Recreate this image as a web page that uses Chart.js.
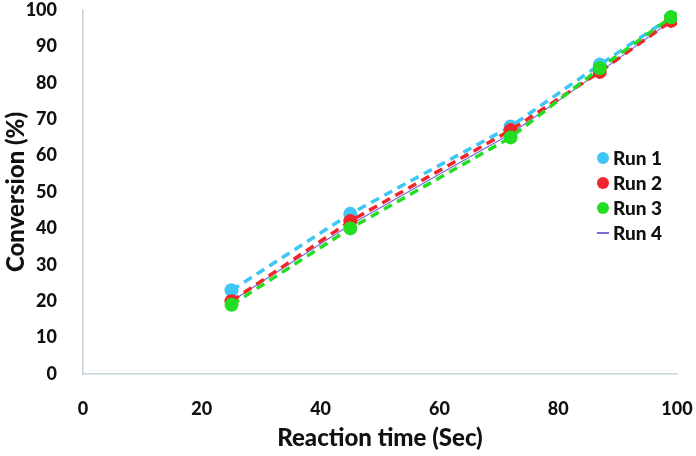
<!DOCTYPE html>
<html><head><meta charset="utf-8">
<script src="https://cdn.jsdelivr.net/npm/chart.js@4"></script>
<style>
html,body{margin:0;padding:0;background:#fff;}
#wrap{position:relative;width:696px;height:456px;}
#legend{position:absolute;left:597px;top:145px;font-family:Lato,"Open Sans",sans-serif;font-weight:900;font-size:19px;color:#111;}
#legend div{height:25px;display:flex;align-items:center;}
#legend span.m{display:inline-block;width:12px;margin-right:4px;}
</style></head>
<body><div id="wrap"><canvas id="c" width="696" height="456"></canvas><div id="legend"></div></div>
<script>
const times = [25, 45, 72, 87, 99];
const run1 = [23, 44, 68, 85, 98];
const run2 = [20, 42, 67, 83, 97];
const run3 = [19, 40, 65, 84, 98];
const run4 = [20, 41, 66, 83, 97];
const seriesNames = ['Run 1', 'Run 2', 'Run 3', 'Run 4'];
const xTitle = 'Reaction time (Sec)';
const yTitle = 'Conversion (%)';
const colors = ['#3ec6f5', '#f0262b', '#22dd22', '#7a6ad8'];

const pts = v => times.map((t, i) => ({x: t, y: v[i]}));
const font = {family: 'Lato, "Open Sans", sans-serif', weight: 900};

const datasets = [
  {label: seriesNames[3], data: pts(run4), borderColor: colors[3], borderWidth: 1.2, pointRadius: 0, order: 4},
  {label: seriesNames[2], data: pts(run3), borderColor: colors[2], backgroundColor: colors[2], borderWidth: 3.5, borderDash: [9, 6], pointRadius: 7, pointBorderWidth: 0, order: 1},
  {label: seriesNames[1], data: pts(run2), borderColor: colors[1], backgroundColor: colors[1], borderWidth: 3.5, borderDash: [9, 6], pointRadius: 7, pointBorderWidth: 0, order: 2},
  {label: seriesNames[0], data: pts(run1), borderColor: colors[0], backgroundColor: colors[0], borderWidth: 3.5, borderDash: [9, 6], pointRadius: 7, pointBorderWidth: 0, order: 3}
];

new Chart(document.getElementById('c'), {
  type: 'line',
  data: {datasets},
  options: {
    responsive: false, animation: false,
    layout: {padding: 0},
    plugins: {legend: {display: false}, tooltip: {enabled: false}},
    scales: {
      x: {type: 'linear', min: 0, max: 100,
        afterFit: s => { s.height = 82; s.paddingRight = 19; s.paddingLeft = 0; },
        ticks: {stepSize: 20, color: '#111', font: {...font, size: 18}, padding: 16},
        grid: {display: false}, border: {color: '#c6d3da', width: 1.5},
        title: {display: true, text: xTitle, color: '#111', font: {...font, size: 24, lineHeight: 1.0}, padding: {top: 4, bottom: 6}}},
      y: {min: 0, max: 100,
        afterFit: s => { s.width = 83; s.paddingTop = 10; s.paddingBottom = 0; },
        ticks: {stepSize: 10, color: '#111', font: {...font, size: 18}, padding: 18},
        grid: {display: false}, border: {color: '#c6d3da', width: 1.5},
        title: {display: true, text: yTitle, color: '#111', font: {...font, size: 24, lineHeight: 1.0}, padding: {top: 4, bottom: 0}}}
    }
  }
});

const lg = document.getElementById('legend');
seriesNames.forEach((n, i) => {
  const d = document.createElement('div');
  const m = document.createElement('span');
  m.className = 'm';
  if (i < 3) { m.style.height = '12px'; m.style.borderRadius = '50%'; m.style.background = colors[i]; }
  else { m.style.height = '2px'; m.style.background = colors[i]; }
  d.appendChild(m);
  d.appendChild(document.createTextNode(n));
  lg.appendChild(d);
});
</script></body></html>
